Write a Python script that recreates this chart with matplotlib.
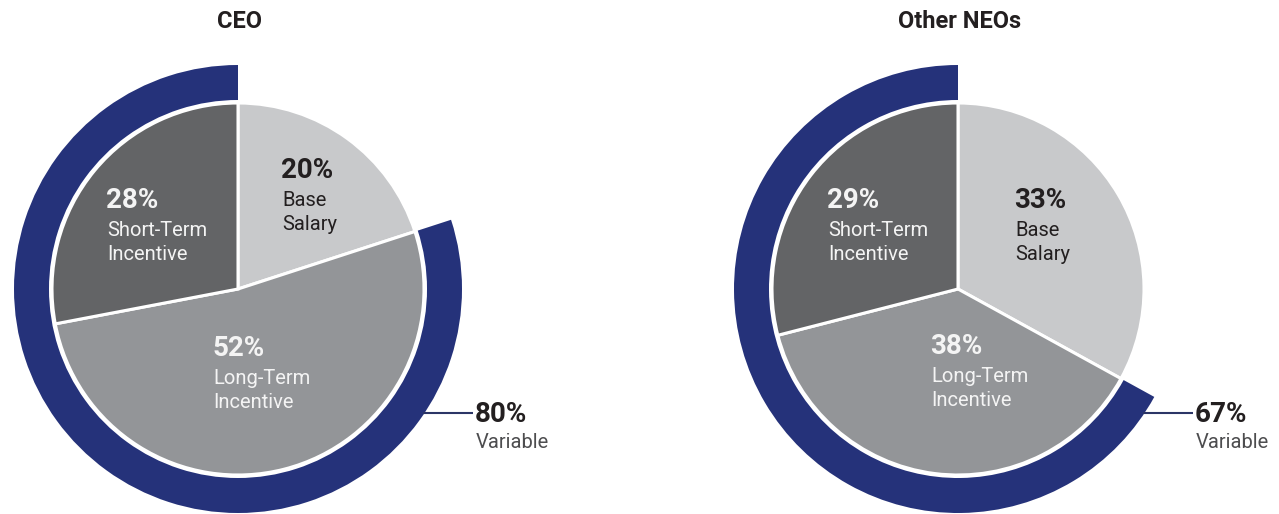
import matplotlib.pyplot as plt
from matplotlib.patches import Wedge

# data
charts = ["CEO", "Other NEOs"]
components = [["Base", "Salary"], ["Long-Term", "Incentive"], ["Short-Term", "Incentive"]]
ceo_mix = [20, 52, 28]
neo_mix = [33, 38, 29]

slice_colors = ["#c8c9cb", "#939598", "#636466"]
text_colors = ["#231f20", "#f4f4f4", "#f4f4f4"]
navy = "#25327a"

plt.rcParams['font.family'] = ['Roboto', 'DejaVu Sans']

fig = plt.figure(figsize=(12.79, 5.14), dpi=100)
ax = fig.add_axes([0, 0, 1, 1])

H = 514
centers = [(238, H - 289), (958, H - 289)]
R = 186
ring_in, ring_out = 189, 224

# label anchors (left x, y of the percentage) per slice, in pixels from top
label_pos = [
    [(282, 170), (213, 348), (107, 200)],
    [(1015, 200), (931, 346), (828, 200)],
]
leader_y = [413, 413]

for k, (name, mix) in enumerate(zip(charts, [ceo_mix, neo_mix])):
    cx, cy = centers[k]
    ax.pie(mix, center=(cx, cy), radius=R, startangle=90, counterclock=False,
           colors=slice_colors,
           wedgeprops=dict(edgecolor="white", linewidth=2.2))

    # outer arc covering the variable part (STI + LTI)
    variable = mix[1] + mix[2]
    t1 = 90
    t2 = 90 + variable / 100 * 360
    ax.add_patch(Wedge((cx, cy), ring_out, t1, t2, width=ring_out - ring_in,
                       facecolor=navy, edgecolor="none"))

    for i, (comp, val) in enumerate(zip(components, mix)):
        lx, ly = label_pos[k][i]
        ax.text(lx - 1, H - ly, f"{val}%", fontsize=20, fontweight="bold",
                color=text_colors[i], ha="left", va="center")
        for j, line in enumerate(comp):
            ax.text(lx, H - ly - 30 - 25 * j, line, fontsize=14.5,
                    color=text_colors[i], ha="left", va="center")

    ax.text(cx + 2, H - 22, name, fontsize=17, fontweight="bold",
            color="#231f20", ha="center", va="center")

    # leader line and variable label
    ly = H - leader_y[k]
    dy = cy - ly
    x0 = cx + (ring_out ** 2 - dy ** 2) ** 0.5 - 2
    ax.plot([x0, x0 + 50], [ly, ly], color="#2b3566", lw=1.5,
            solid_capstyle="butt")
    ax.text(x0 + 52, ly - 1, f"{variable}%", fontsize=20, fontweight="bold",
            color="#231f20", ha="left", va="center")
    ax.text(x0 + 53, ly - 30, "Variable", fontsize=14.5, color="#4d4d4f",
            ha="left", va="center")

ax.set_xlim(0, 1279)
ax.set_ylim(0, H)
ax.set_aspect("auto")
ax.axis("off")

fig.savefig("out.png", dpi=100)
